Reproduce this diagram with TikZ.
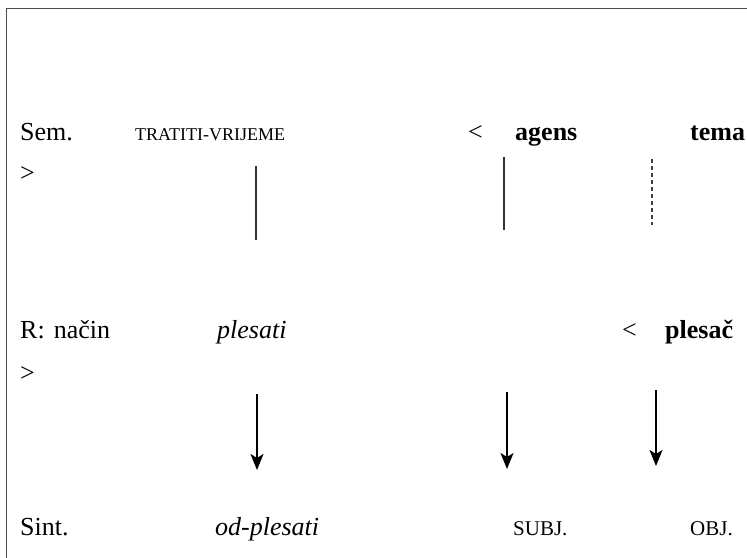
\documentclass[tikz,border=0pt]{standalone}
\usepackage{fontspec}
\setmainfont{Liberation Serif}
\usetikzlibrary{arrows.meta}
\begin{document}
\begin{tikzpicture}[x=1pt,y=-1pt,
  txt/.style={anchor=base west,inner sep=0pt,font=\fontsize{26}{31}\selectfont},
  sm/.style={anchor=base west,inner sep=0pt,font=\fontsize{18}{22}\selectfont},
  smb/.style={anchor=base west,inner sep=0pt,font=\fontsize{21}{25}\selectfont},
  link/.style={line width=1.1pt,black!80},
  dlink/.style={line width=1.1pt,black!75,dash pattern=on 4pt off 3pt},
  arr/.style={line width=1.7pt,-{Stealth[length=16pt,width=13pt,inset=4pt]}}]
\useasboundingbox (0,0) rectangle (747,557);
\draw[line width=1pt,black!70] (6,560) -- (6,8) -- (750,8);
% row 1
\node[txt] (sem) at (20,140) {Sem.};
\node[sm] (tv) at (135,140) {TRATITI-VRIJEME};
\node[txt] (lt1) at (468,140) {<};
\node[txt] (agens) at (515,140) {\textbf{agens}};
\node[txt] (tema) at (690,140) {\textbf{tema}};
\node[txt] (gt1) at (20,181) {>};
% links
\coordinate (l1a) at (256,166); \coordinate (l1b) at (256,240);
\coordinate (l2a) at (504,157); \coordinate (l2b) at (504,230);
\coordinate (l3a) at (652,159); \coordinate (l3b) at (652,225);
\draw[link] (l1a) -- (l1b);
\draw[link] (l2a) -- (l2b);
\draw[dlink] (l3a) -- (l3b);
% row 2
\node[txt] (rn) at (20,338) {R:\hspace{9pt}način};
\node[txt] (ples) at (217,338) {\textit{plesati}};
\node[txt] (lt2) at (622,338) {<};
\node[txt] (plesac) at (665,338) {\textbf{plesač}};
\node[txt] (gt2) at (20,381) {>};
% arrows
\coordinate (a1a) at (257,394); \coordinate (a1b) at (257,470);
\coordinate (a2a) at (507,392); \coordinate (a2b) at (507,469);
\coordinate (a3a) at (656,390); \coordinate (a3b) at (656,466);
\draw[arr] (a1a) -- (a1b);
\draw[arr] (a2a) -- (a2b);
\draw[arr] (a3a) -- (a3b);
% row 3
\node[txt] (sint) at (20,535) {Sint.};
\node[txt] (odp) at (215,535) {\textit{od-plesati}};
\node[smb] (subj) at (513,535) {SUBJ.};
\node[smb] (obj) at (690,535) {OBJ.};
\end{tikzpicture}
\end{document}
